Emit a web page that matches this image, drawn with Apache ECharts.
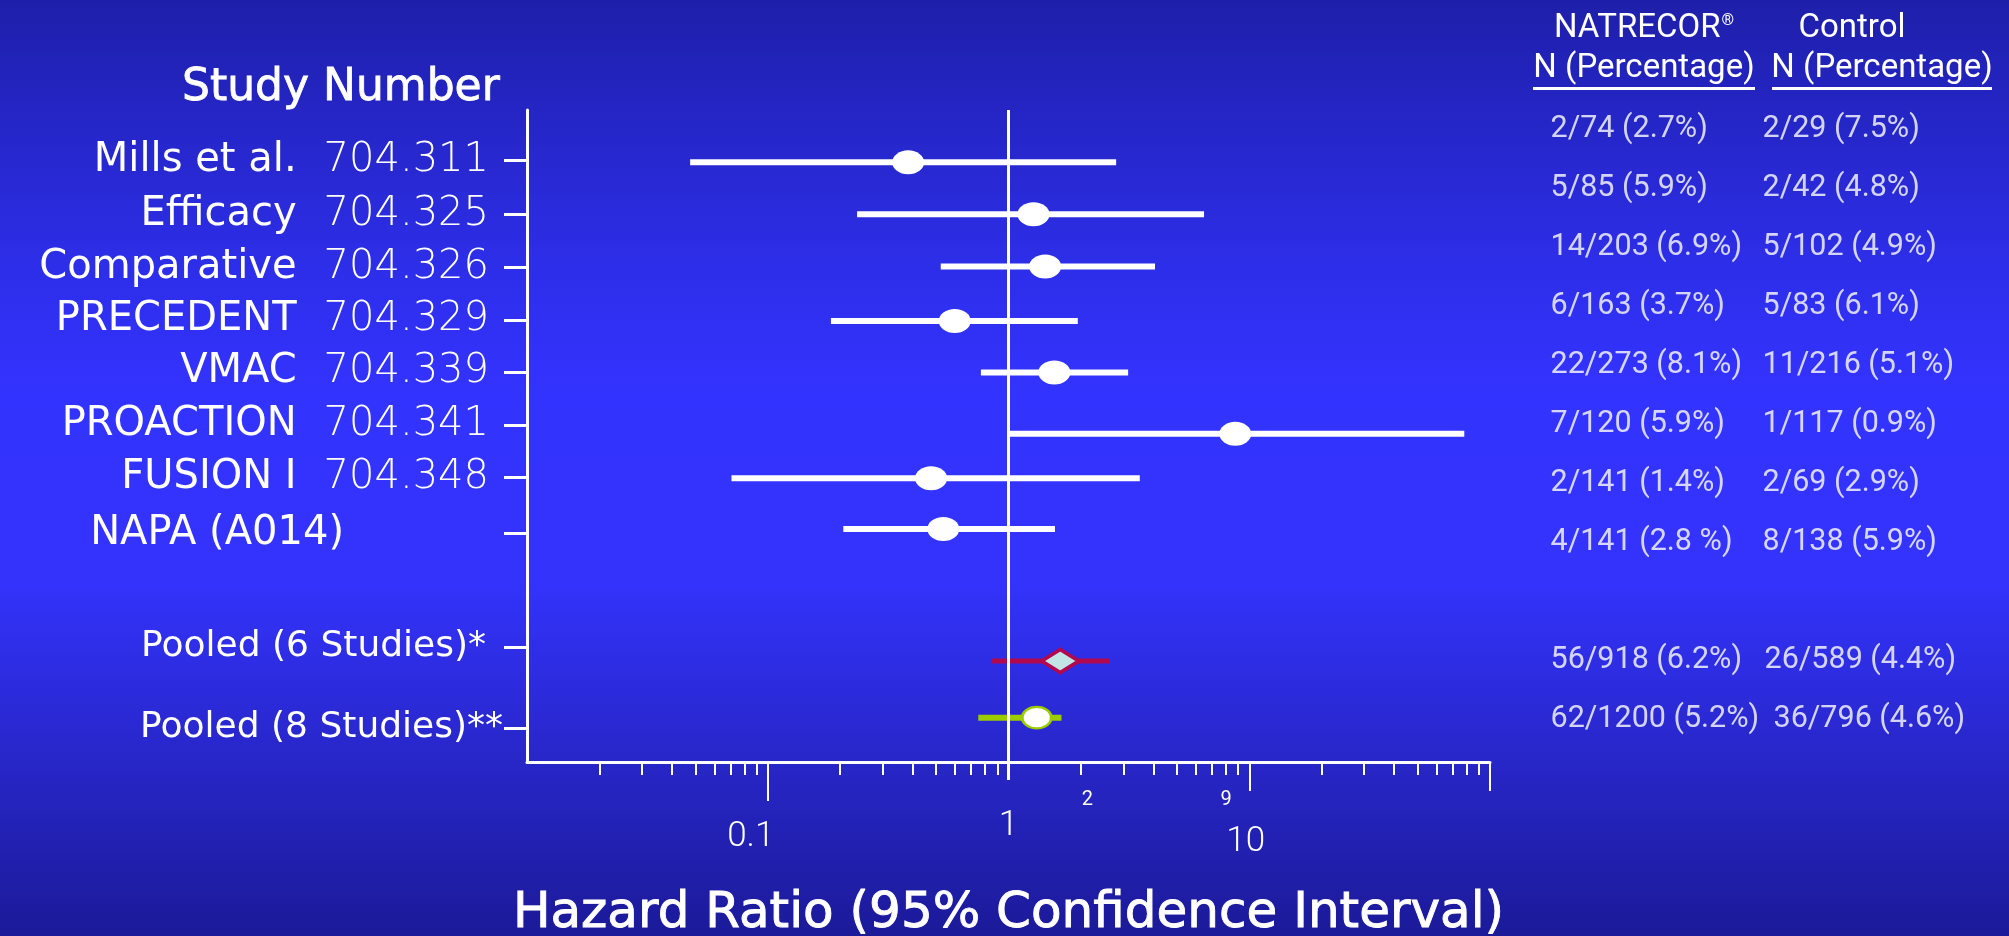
<!DOCTYPE html>
<html>
<head>
<meta charset="utf-8">
<script src="https://cdn.jsdelivr.net/npm/echarts@6.0.0/dist/echarts.min.js"></script>
<style>
html,body{margin:0;padding:0;width:2009px;height:936px;overflow:hidden;background:#2a2ad0;}
#chart{width:2009px;height:936px;}
</style>
</head>
<body>
<div id="chart"></div>
<script>
// ---------------- data ----------------
const studyNames = ['Mills et al.', 'Efficacy', 'Comparative', 'PRECEDENT', 'VMAC', 'PROACTION', 'FUSION I', 'NAPA (A014)', 'Pooled (6 Studies)*', 'Pooled (8 Studies)**'];
const studyNumbers = ['704.311', '704.325', '704.326', '704.329', '704.339', '704.341', '704.348', '', '', ''];
const hazardRatio = [0.383, 1.27, 1.42, 0.598, 1.55, 8.75, 0.477, 0.536, 1.64, 1.31];
const ciLower = [0.0476, 0.235, 0.523, 0.183, 0.768, 1.01, 0.0707, 0.206, 0.847, 0.749];
const ciUpper = [2.80, 6.49, 4.06, 1.94, 3.14, 78.2, 3.51, 1.56, 2.62, 1.66];
// vertical row positions (row units) of the marks and of the axis labels/ticks
const markRows = [0.98, 1.95, 2.93, 3.95, 4.91, 6.06, 6.89, 7.84, 10.31, 11.37];
const labelRows = [0.94, 1.95, 2.94, 3.93, 4.90, 5.89, 6.87, 7.92, 10.05, 11.56];
const natrecorN = ['2/74 (2.7%)', '5/85 (5.9%)', '14/203 (6.9%)', '6/163 (3.7%)', '22/273 (8.1%)', '7/120 (5.9%)', '2/141 (1.4%)', '4/141 (2.8 %)', '56/918 (6.2%)', '62/1200 (5.2%)'];
const controlN = ['2/29 (7.5%)', '2/42 (4.8%)', '5/102 (4.9%)', '5/83 (6.1%)', '11/216 (5.1%)', '1/117 (0.9%)', '2/69 (2.9%)', '8/138 (5.9%)', '26/589 (4.4%)', '36/796 (4.6%)'];
const tableRowKeys = ['Mills et al.', 'Efficacy', 'Comparative', 'PRECEDENT', 'VMAC', 'PROACTION', 'FUSION I', 'NAPA (A014)', ' ', 'Pooled (6 Studies)*', 'Pooled (8 Studies)**'];
// x axis ticks / labels
const majorTickValues = [0.1, 1, 10];
const majorTickLabels = ['0.1', '1', '10'];
const minorTickValues = [0.02, 0.03, 0.04, 0.05, 0.06, 0.07, 0.08, 0.09,
                         0.2, 0.3, 0.4, 0.5, 0.6, 0.7, 0.8, 0.9,
                         2, 3, 4, 5, 6, 7, 8, 9,
                         20, 30, 40, 50, 60, 70, 80, 90];
const smallLabelValues = [2, 9];
const smallLabels = ['2', '9'];
const longTickValues = [0.1];
const midTickValues = [10, 100];
const unityTick = [1];

// ---------------- styles ----------------
const WHITE = '#ffffff';
const barColors = [WHITE, WHITE, WHITE, WHITE, WHITE, WHITE, WHITE, WHITE, '#b1094f', '#9acc00'];
const barWidths = [6, 6, 6, 6, 6, 6, 6, 6, 5, 6];
const markerSymbols = ['circle', 'circle', 'circle', 'circle', 'circle', 'circle', 'circle', 'circle', 'diamond', 'circle'];
const markerSizes = [[32, 24], [32, 24], [32, 24], [32, 24], [32, 24], [32, 24], [32, 24], [32, 24], [37, 23], [29, 21.5]];
const markerStyles = [
  {color: WHITE, opacity: 1}, {color: WHITE, opacity: 1}, {color: WHITE, opacity: 1}, {color: WHITE, opacity: 1},
  {color: WHITE, opacity: 1}, {color: WHITE, opacity: 1}, {color: WHITE, opacity: 1}, {color: WHITE, opacity: 1},
  {color: '#c2e4e4', borderColor: '#b1094f', borderWidth: 4, opacity: 1},
  {color: WHITE, borderColor: '#9acc00', borderWidth: 2.5, opacity: 1}
];
const controlOffsets = {8: 2, 9: 11};

function near(a, b) { return Math.abs(a - b) < 1e-6 * Math.max(1, Math.abs(b)); }

function rowLabel(value) {
  const i = labelRows.findIndex(v => near(v, value));
  if (i < 0) return '';
  if (i === 7) return '{napa|' + studyNames[i] + '}';
  if (i === 8) return '{p6|' + studyNames[i] + '}';
  if (i === 9) return '{p8|' + studyNames[i] + '}';
  return '{name|' + studyNames[i] + '}{gap| }{num|' + studyNumbers[i] + '}';
}
function majorLabel(value) {
  const i = majorTickValues.findIndex(v => near(v, value));
  return i < 0 ? '' : '{m' + i + '|' + majorTickLabels[i] + '}';
}
function smallLabel(value) {
  const i = smallLabelValues.findIndex(v => near(v, value));
  return i < 0 ? '' : '{s' + i + '|' + smallLabels[i] + '}';
}
function renderCI(params, api) {
  const i = params.dataIndex;
  const a = api.coord([api.value(0), api.value(2)]);
  const b = api.coord([api.value(1), api.value(2)]);
  return {
    type: 'line',
    shape: {x1: a[0], y1: a[1], x2: b[0], y2: b[1]},
    style: {stroke: barColors[i], lineWidth: barWidths[i], lineCap: 'butt'}
  };
}

const ciData = studyNames.map((n, i) => [ciLower[i], ciUpper[i], markRows[i]]);
const pointData = hazardRatio.map((v, i) => ({
  value: [v, markRows[i]],
  symbol: markerSymbols[i],
  symbolSize: markerSizes[i],
  itemStyle: markerStyles[i]
}));
const tableData = [];
studyNames.forEach((n, i) => {
  tableData.push({value: [0, n], text: natrecorN[i]});
  const item = {value: [1, n], text: controlN[i]};
  if (controlOffsets[i]) item.label = {offset: [controlOffsets[i], 0]};
  tableData.push(item);
});

const logBase = {type: 'log', logBase: 10, gridIndex: 0, min: 0.01, max: 100, position: 'bottom', splitLine: {show: false}, minorTick: {show: false}};
const nameFont = {fontFamily: 'DejaVu Sans', fontSize: 40, color: WHITE};
const hdr = {fontFamily: 'Roboto', fontWeight: 'normal', color: WHITE};

const option = {
  animation: false,
  backgroundColor: {
    type: 'linear', x: 0, y: 0, x2: 0, y2: 1,
    colorStops: [
      {offset: 0, color: '#1e1fa9'},
      {offset: 0.28, color: '#2d2ee8'},
      {offset: 0.42, color: '#3333ff'},
      {offset: 0.62, color: '#3333fc'},
      {offset: 0.82, color: '#2726c6'},
      {offset: 1, color: '#1b1a99'}
    ]
  },
  title: [
    {text: 'Study Number', left: 182, top: 67, padding: 0,
     textStyle: {fontFamily: 'DejaVu Sans', fontWeight: 'normal', fontSize: 44, color: WHITE, textBorderColor: WHITE, textBorderWidth: 0.8}},
    {text: '{a|NATRECOR}{r|®}\n{b|N (Percentage)}\n{u| }', left: 1644, top: 8, padding: 0, textAlign: 'center',
     textStyle: {fontWeight: 'normal', rich: {
       a: Object.assign({fontSize: 33, lineHeight: 42}, hdr),
       r: Object.assign({fontSize: 16, lineHeight: 42, padding: [0, 0, 16, 1]}, hdr),
       b: Object.assign({fontSize: 33, lineHeight: 37}, hdr),
       u: {width: 222, height: 3, lineHeight: 3, fontSize: 3, backgroundColor: WHITE}
     }}},
    {text: '{a|Control}\n{b|N (Percentage)}\n{u| }', left: 1882, top: 8, padding: 0, textAlign: 'center',
     textStyle: {fontWeight: 'normal', rich: {
       a: Object.assign({fontSize: 33, lineHeight: 42, padding: [0, 60, 0, 0]}, hdr),
       b: Object.assign({fontSize: 33, lineHeight: 37}, hdr),
       u: {width: 220, height: 3, lineHeight: 3, fontSize: 3, backgroundColor: WHITE}
     }}}
  ],
  grid: [
    {left: 527, top: 110, width: 963, height: 652, outerBoundsMode: 'none', containLabel: false},
    {left: 1550, top: 129, width: 212, height: 590, outerBoundsMode: 'none', containLabel: false}
  ],
  xAxis: [
    Object.assign({}, logBase, {
      axisLine: {show: true, onZero: false, lineStyle: {color: WHITE, width: 3}},
      axisTick: {show: true, customValues: minorTickValues, length: 13, lineStyle: {color: WHITE, width: 2}},
      axisLabel: {show: true, customValues: majorTickValues, interval: 0, margin: 43, formatter: majorLabel,
        rich: {
          m0: {fontFamily: 'Roboto', fontWeight: 300, fontSize: 35, color: WHITE, padding: [15, 34, 0, 0]},
          m1: {fontFamily: 'Roboto', fontWeight: 300, fontSize: 35, color: WHITE, padding: [4, 0, 0, 0]},
          m2: {fontFamily: 'Roboto', fontWeight: 300, fontSize: 35, color: WHITE, padding: [20, 7, 0, 0]}
        }},
      name: 'Hazard Ratio (95% Confidence Interval)', nameLocation: 'middle', nameGap: 127,
      nameTextStyle: {fontFamily: 'DejaVu Sans', fontWeight: 'normal', fontSize: 50, color: WHITE, textBorderColor: WHITE, textBorderWidth: 0.9}
    }),
    Object.assign({}, logBase, {
      axisLine: {show: false, onZero: false},
      axisTick: {show: true, customValues: longTickValues, length: 39, lineStyle: {color: WHITE, width: 2}},
      axisLabel: {show: false}
    }),
    Object.assign({}, logBase, {
      axisLine: {show: false, onZero: false},
      axisTick: {show: true, customValues: midTickValues, length: 29, lineStyle: {color: WHITE, width: 2}},
      axisLabel: {show: true, customValues: smallLabelValues, interval: 0, margin: 28, formatter: smallLabel,
        rich: {
          s0: {fontFamily: 'Roboto', fontSize: 20, color: WHITE, padding: [0, 0, 0, 13]},
          s1: {fontFamily: 'Roboto', fontSize: 20, color: WHITE, padding: [0, 24, 0, 0]}
        }}
    }),
    Object.assign({}, logBase, {
      axisLine: {show: false, onZero: false},
      axisTick: {show: true, customValues: unityTick, length: 18, lineStyle: {color: WHITE, width: 3}},
      axisLabel: {show: false}
    }),
    {type: 'value', gridIndex: 1, min: 0, max: 1, show: false, splitLine: {show: false}}
  ],
  yAxis: [
    {type: 'value', gridIndex: 0, min: 0, max: 12.2, inverse: true,
     axisLine: {show: true, onZero: false, lineStyle: {color: WHITE, width: 3}},
     axisTick: {show: true, customValues: labelRows, length: 23, lineStyle: {color: WHITE, width: 3}},
     axisLabel: {show: true, customValues: labelRows, interval: 0, margin: 24, formatter: rowLabel,
       rich: {
         name: nameFont,
         gap: {width: 27, fontSize: 10},
         num: {fontFamily: 'DejaVu Sans', fontWeight: 200, fontSize: 40, color: WHITE, padding: [0, 14, 0, 0]},
         napa: {fontFamily: 'DejaVu Sans', fontSize: 40, color: WHITE, padding: [0, 159, 0, 0]},
         p6: {fontFamily: 'DejaVu Sans', fontSize: 36, color: WHITE, padding: [0, 17, 0, 0]},
         p8: {fontFamily: 'DejaVu Sans', fontSize: 36, color: WHITE}
       }},
     splitLine: {show: false}},
    {type: 'category', gridIndex: 1, data: tableRowKeys, inverse: true, boundaryGap: false, show: false}
  ],
  series: [
    {type: 'line', xAxisIndex: 0, yAxisIndex: 0, data: [], z: 1, silent: true,
     markLine: {silent: true, symbol: ['none', 'none'], label: {show: false},
       lineStyle: {color: WHITE, width: 3, type: 'solid', opacity: 1}, data: [{xAxis: 1}]}},
    {type: 'custom', name: 'CI', xAxisIndex: 0, yAxisIndex: 0, z: 2, silent: true,
     renderItem: renderCI, encode: {x: [0, 1], y: 2}, data: ciData},
    {type: 'scatter', name: 'Hazard ratio', xAxisIndex: 0, yAxisIndex: 0, z: 3, silent: true,
     itemStyle: {opacity: 1}, data: pointData},
    {type: 'scatter', name: 'table', xAxisIndex: 4, yAxisIndex: 1, silent: true, symbolSize: 1,
     itemStyle: {color: 'rgba(0,0,0,0)'},
     label: {show: true, position: 'right', distance: 0, color: WHITE, fontFamily: 'Roboto', fontSize: 30.5,
       align: 'left', verticalAlign: 'middle', formatter: p => p.data.text},
     data: tableData}
  ]
};

const chart = echarts.init(document.getElementById('chart'), null, {renderer: 'canvas', width: 2009, height: 936});
chart.setOption(option);
</script>
</body>
</html>
